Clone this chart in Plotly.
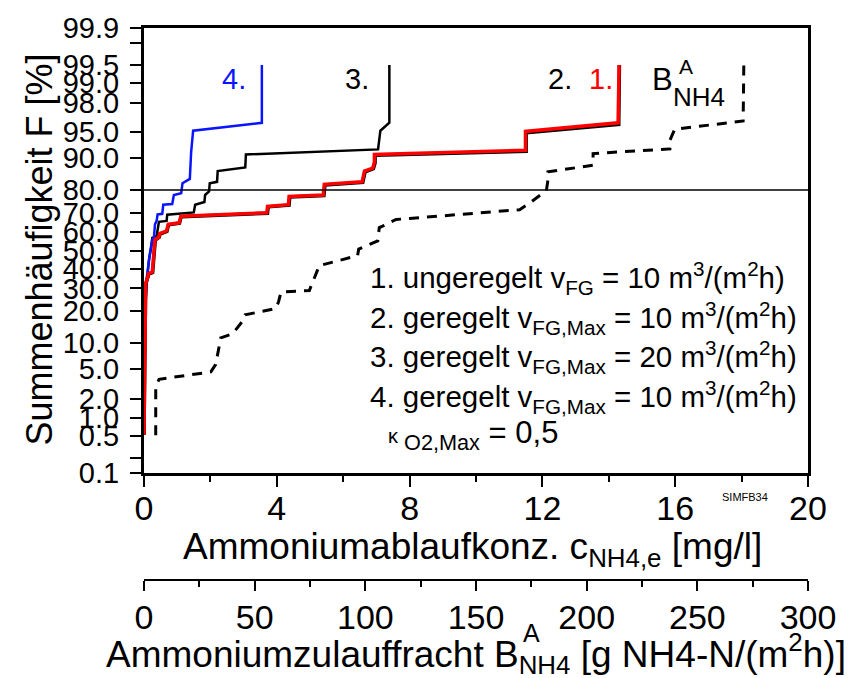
import plotly.graph_objects as go
from statistics import NormalDist

_nd = NormalDist()


def probit(p):
    """Percent -> standard normal quantile (probability-paper scale)."""
    return _nd.inv_cdf(p / 100.0)


# ---- data -----------------------------------------------------------------
# 1. ungeregelt, v_FG = 10 m3/(m2h)  -> c_NH4,e [mg/l] vs. F [%]
c1 = [0.0, 0.02, 0.05, 0.12, 0.13, 0.25, 0.28, 0.30, 0.33, 0.45, 0.47, 0.68,
      0.73, 1.06, 1.11, 3.70, 3.72, 4.35, 4.37, 5.40, 5.43, 6.57, 6.64, 6.89,
      6.94, 6.94, 11.49, 11.49, 14.28, 14.31]
f1 = [0.53, 7.2, 32.3, 36.0, 37.4, 38.3, 47.0, 50.0, 56.0, 57.5, 59.3, 60.7,
      64.2, 65.0, 68.3, 70.0, 73.0, 73.8, 77.4, 78.0, 82.1, 83.0, 86.5, 87.4,
      89.0, 90.9, 91.8, 95.1, 96.2, 99.5]

# 2. geregelt, v_FG,Max = 10 m3/(m2h)
c2 = [0.0, 0.02, 0.05, 0.12, 0.14, 0.26, 0.29, 0.31, 0.34, 0.46, 0.48, 0.69,
      0.74, 1.07, 1.12, 3.72, 3.74, 4.37, 4.39, 5.42, 5.45, 6.59, 6.66, 6.91,
      6.96, 6.96, 11.51, 11.51, 14.30, 14.32]
f2 = [0.53, 7.0, 32.0, 35.8, 37.2, 38.0, 46.8, 49.8, 55.8, 57.3, 59.1, 60.5,
      64.0, 64.8, 68.1, 69.8, 72.8, 73.6, 77.2, 77.8, 81.9, 82.8, 86.3, 87.2,
      88.8, 90.7, 91.6, 94.9, 96.0, 99.5]

# 3. geregelt, v_FG,Max = 20 m3/(m2h)
c3 = [0.0, 0.03, 0.08, 0.15, 0.22, 0.25, 0.38, 0.40, 0.45, 0.68, 0.70, 1.50,
      1.54, 1.82, 1.84, 1.96, 1.98, 2.20, 2.22, 3.05, 3.07, 7.05, 7.12, 7.39,
      7.39]
f3 = [0.53, 20.0, 32.0, 45.0, 52.0, 57.0, 58.0, 61.0, 65.5, 66.0, 69.1, 70.2,
      73.8, 75.0, 78.0, 79.4, 82.5, 83.0, 86.5, 87.6, 90.9, 92.0, 95.2, 96.2,
      99.5]

# 4. geregelt, v_FG,Max = 10 m3/(m2h), kappa_O2,Max = 0,5
c4 = [0.0, 0.03, 0.08, 0.14, 0.19, 0.25, 0.30, 0.33, 0.38, 0.41, 0.55, 0.58,
      0.85, 0.90, 1.12, 1.16, 1.38, 1.42, 1.48, 3.55, 3.55]
f4 = [0.53, 20.0, 35.0, 45.0, 50.0, 56.0, 57.3, 64.2, 66.0, 69.2, 69.5, 73.8,
      74.1, 78.0, 78.7, 82.5, 84.0, 91.4, 95.2, 96.2, 99.5]

# Ammoniumzulauffracht B^A_NH4 [g NH4-N/(m2h)] vs. F [%]
b_load = [5.3, 5.3, 6.8, 30.2, 32.4, 34.7, 40.0, 44.5, 45.7, 59.6, 60.8, 61.9,
          74.7, 77.4, 79.2, 96.5, 97.0, 105.6, 106.3, 107.8, 113.9, 120.0,
          169.7, 174.2, 181.8, 182.5, 182.5, 202.9, 202.9, 237.6, 237.6,
          239.8, 270.7, 271.0]
f_load = [0.52, 2.9, 3.7, 4.6, 5.7, 11.3, 12.4, 16.3, 18.6, 21.1, 23.9, 28.3,
          29.0, 36.5, 41.7, 47.2, 50.8, 55.3, 62.5, 63.3, 66.7, 67.2, 71.5,
          74.5, 79.8, 83.6, 86.3, 88.2, 91.1, 92.1, 93.7, 95.4, 96.4, 99.5]

# probability axis ticks
f_ticks = [0.1, 0.2, 0.5, 1, 2, 5, 10, 20, 30, 40, 50, 60, 70, 80, 90, 95, 98,
           99, 99.5, 99.8, 99.9]
f_ticklabels = ["0.1", "", "0.5", "1.0", "2.0", "5.0", "10.0", "20.0", "30.0",
                "40.0", "50.0", "60.0", "70.0", "80.0", "90.0", "95.0", "98.0",
                "99.0", "99.5", "", "99.9"]
f_limit = 80.0

# ---- layout helpers ---------------------------------------------------------
W, H = 850, 678
ML, MR, MT, MB = 144, 42, 22, 98
PW, PH = W - ML - MR, H - MT - MB
Y_BOTTOM_PX = 472  # bottom edge of the probability plot
FONT = "Liberation Sans, Arial, sans-serif"


def px(x):
    return (x - ML) / PW


def py(y):
    return (H - MB - y) / PH


fig = go.Figure()

fig.add_trace(go.Scatter(x=b_load, y=[probit(v) for v in f_load], xaxis="x2",
                         yaxis="y", mode="lines",
                         line=dict(color="black", width=3, dash="10px,8px"),
                         showlegend=False))
fig.add_trace(go.Scatter(x=c3, y=[probit(v) for v in f3], mode="lines",
                         line=dict(color="black", width=2.5),
                         showlegend=False))
fig.add_trace(go.Scatter(x=c4, y=[probit(v) for v in f4], mode="lines",
                         line=dict(color="#0a14ff", width=2.5),
                         showlegend=False))
fig.add_trace(go.Scatter(x=c2, y=[probit(v) for v in f2], mode="lines",
                         line=dict(color="black", width=3.5),
                         showlegend=False))
fig.add_trace(go.Scatter(x=c1, y=[probit(v) for v in f1], mode="lines",
                         line=dict(color="#ff0000", width=3.5),
                         showlegend=False))

fig.add_shape(type="line", xref="paper", x0=0, x1=1, yref="y",
              y0=probit(f_limit), y1=probit(f_limit),
              line=dict(color="black", width=1.5))

ann = []


def text(x, y, s, size, color="black", xanchor="center", yanchor="middle",
         angle=0):
    ann.append(dict(x=px(x), y=py(y), xref="paper", yref="paper", text=s,
                    showarrow=False, xanchor=xanchor, yanchor=yanchor,
                    textangle=angle,
                    font=dict(family=FONT, size=size, color=color)))


# curve labels
text(234, 74, "4.", 29, "#0a14ff")
text(357, 74, "3.", 29)
text(560, 74, "2.", 29)
text(601, 74, "1.", 29, "#ff0000")
text(662, 74, "B", 31)
text(686, 61, "A", 21)
text(699, 92, "NH4", 26)

# legend block
leg_x = 368
leg_size = 29.5
text(leg_x, 275, "1. ungeregelt v<sub>FG</sub> = 10 m<sup>3</sup>/(m<sup>2</sup>h)",
     leg_size, xanchor="left")
text(leg_x, 315, "2. geregelt v<sub>FG,Max</sub> = 10 m<sup>3</sup>/(m<sup>2</sup>h)",
     leg_size, xanchor="left")
text(leg_x, 355, "3. geregelt v<sub>FG,Max</sub> = 20 m<sup>3</sup>/(m<sup>2</sup>h)",
     leg_size, xanchor="left")
text(leg_x, 395, "4. geregelt v<sub>FG,Max</sub> = 10 m<sup>3</sup>/(m<sup>2</sup>h)",
     leg_size, xanchor="left")
text(386, 433, "<span style='font-size:20px'>κ</span><sub> O2,Max</sub> = 0,5",
     31, xanchor="left")

text(745, 496, "SIMFB34", 11)

# axis titles
text(472, 549, "Ammoniumablaufkonz. c<sub>NH4,e</sub> [mg/l]", 37)
text(476, 654, "Ammoniumzulauffracht B<sub>NH4</sub> [g NH4-N/(m<sup>2</sup>h)]",
     37)
text(531, 634, "A", 25)
text(40, 246, "Summenhäufigkeit F [%]", 36, angle=-90)

axis_common = dict(showgrid=False, zeroline=False, showline=True,
                   linecolor="black", ticks="outside", tickcolor="black")

fig.update_layout(
    width=W, height=H,
    margin=dict(l=ML, r=MR, t=MT, b=MB, pad=0),
    paper_bgcolor="white", plot_bgcolor="white",
    font=dict(family=FONT, color="black"),
    xaxis=dict(**axis_common, range=[0, 20], tick0=0, dtick=4, ticklen=11,
               tickwidth=2, linewidth=3, mirror=True, anchor="y",
               ticklabelstandoff=-8,
               tickfont=dict(size=34, family=FONT, color="black"),
               minor=dict(dtick=2, ticks="outside", ticklen=6, tickwidth=2,
                          tickcolor="black")),
    xaxis2=dict(**axis_common, range=[0, 300], tick0=0, dtick=50, ticklen=10,
                tickwidth=2, linewidth=2, overlaying="x", anchor="free",
                position=0, side="bottom", ticklabelstandoff=-3,
                tickfont=dict(size=34, family=FONT, color="black"),
                minor=dict(dtick=25, ticks="outside", ticklen=6, tickwidth=2,
                           tickcolor="black")),
    yaxis=dict(**axis_common, domain=[py(Y_BOTTOM_PX), 1],
               range=[probit(0.1), probit(99.9)],
               tickmode="array", tickvals=[probit(v) for v in f_ticks],
               ticktext=f_ticklabels, ticklen=11, tickwidth=2, linewidth=3,
               mirror=True, ticklabelstandoff=5,
               tickfont=dict(size=29, family=FONT, color="black")),
    annotations=ann,
)

fig.write_html("out.html")
